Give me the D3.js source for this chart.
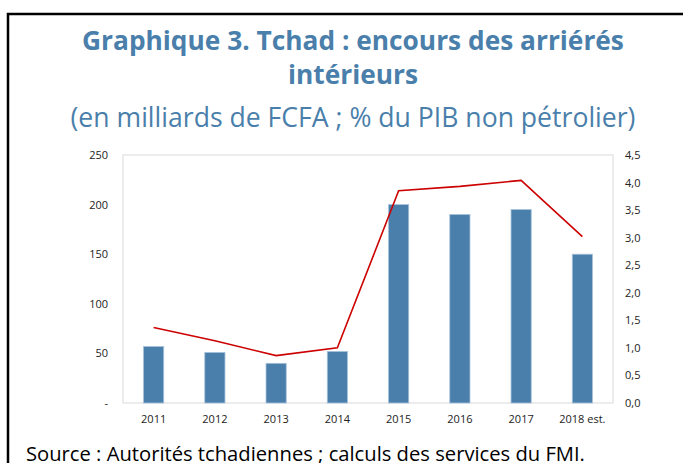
<!DOCTYPE html>
<html><head><meta charset="utf-8">
<script src="https://cdn.jsdelivr.net/npm/d3@7"></script>
<style>html,body{margin:0;padding:0;background:#fff;overflow:hidden}</style>
</head><body>
<svg id="c" width="683" height="463"></svg>
<script>
const categories = ["2011","2012","2013","2014","2015","2016","2017","2018 est."];
const arrears = [57, 51, 40, 52, 200, 190, 195, 150];
const pctGdp = [1.37, 1.13, 0.86, 1.00, 3.85, 3.93, 4.04, 3.02];
const leftTicks = [0, 50, 100, 150, 200, 250];
const rightTicks = [0, 0.5, 1, 1.5, 2, 2.5, 3, 3.5, 4, 4.5];

const svg = d3.select("#c");
const W = 683, H = 463;
const m = {left:123, right:613, top:155, bottom:403};
const blue = "#4a7fac";
const titleColor = "#4a7fab";

// frame
svg.append("path").attr("d", `M8,${H} L8,14 L${W},14`).attr("fill","none")
  .attr("stroke","#000").attr("stroke-width",2.5);

// titles
const font = "'Open Sans', sans-serif";
svg.append("text").attr("x",353).attr("y",50).attr("text-anchor","middle")
  .attr("font-family",font).attr("font-weight","bold").attr("font-size",26.3)
  .attr("fill",titleColor).text("Graphique 3. Tchad : encours des arriérés");
svg.append("text").attr("x",353).attr("y",84).attr("text-anchor","middle")
  .attr("font-family",font).attr("font-weight","bold").attr("font-size",26.3)
  .attr("fill",titleColor).text("intérieurs");
svg.append("text").attr("x",353).attr("y",127).attr("text-anchor","middle")
  .attr("font-family",font).attr("font-size",26.6)
  .attr("fill",titleColor).text("(en milliards de FCFA ; % du PIB non pétrolier)");

const x = d3.scaleBand().domain(categories).range([m.left, m.right]).paddingInner(0.67).paddingOuter(0.335);
const yL = d3.scaleLinear().domain([0,250]).range([m.bottom, m.top]);
const yR = d3.scaleLinear().domain([0,4.5]).range([m.bottom, m.top]);

// plot frame
svg.append("rect").attr("x",m.left).attr("y",m.top).attr("width",m.right-m.left)
  .attr("height",m.bottom-m.top).attr("fill","none").attr("stroke","#d9d9d9").attr("stroke-width",1);

// bars
svg.append("g").selectAll("rect").data(arrears).join("rect")
  .attr("x",(d,i)=>x(categories[i])).attr("width",x.bandwidth())
  .attr("y",d=>yL(d)).attr("height",d=>m.bottom-yL(d))
  .attr("fill",blue).attr("stroke","#a9c3db").attr("stroke-width",0.8);

// line
const line = d3.line().x((d,i)=>x(categories[i])+x.bandwidth()/2).y(d=>yR(d));
svg.append("path").datum(pctGdp).attr("d",line).attr("fill","none")
  .attr("stroke","#cc0000").attr("stroke-width",1.6);

// axes
const tickFont = 11;
const gL = svg.append("g").attr("transform",`translate(${m.left-15},0)`)
  .call(d3.axisLeft(yL).tickValues(leftTicks).tickSize(0).tickPadding(0)
    .tickFormat(d=>d===0?"-":d));
const gR = svg.append("g").attr("transform",`translate(${m.right+12},0)`)
  .call(d3.axisRight(yR).tickValues(rightTicks).tickSize(0).tickPadding(0)
    .tickFormat(d=>d3.format(".1f")(d).replace(".",",")));
const gX = svg.append("g").attr("transform",`translate(0,${m.bottom+10})`)
  .call(d3.axisBottom(x).tickSize(0).tickPadding(0));
[gL,gR,gX].forEach(g=>{
  g.select(".domain").remove();
  g.selectAll("text").attr("font-family",font).attr("font-size",tickFont).attr("fill","#222");
});
gX.selectAll("text").attr("dy","0.9em");

// source
svg.append("text").attr("x",26).attr("y",461).attr("font-family",font).attr("font-size",20.2)
  .attr("fill","#000").text("Source : Autorités tchadiennes ; calculs des services du FMI.");
</script>
</body></html>
